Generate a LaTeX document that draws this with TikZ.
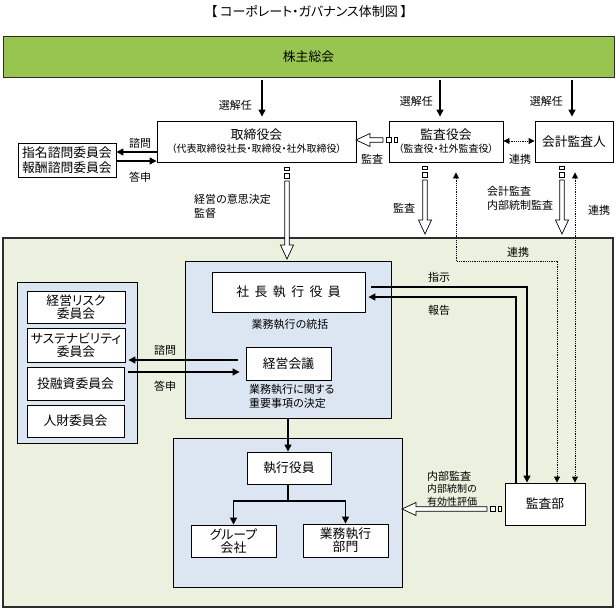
\documentclass[tikz,border=0pt]{standalone}
\usepackage{fontspec}
\usepackage{graphicx}
\setmainfont{Noto Sans CJK JP}[RawFeature=+palt]
\usetikzlibrary{arrows.meta,calc}
\newcommand\fsM{\fontsize{12.8}{16}\selectfont}
\newcommand\fsS{\fontsize{11}{14}\selectfont}
\newcommand\fsX{\fontsize{10}{12.5}\selectfont}
\newcommand\gp{\hspace{5.5pt}}
\definecolor{gbar}{RGB}{152,196,80}
\definecolor{gbg}{RGB}{235,241,222}
\definecolor{bbg}{RGB}{220,230,242}
\definecolor{frame}{RGB}{45,45,45}
\tikzset{
 box/.style={draw=black, line width=0.9pt, fill=white, inner sep=0pt, align=center, font=\fsM},
 panel/.style={draw=black, line width=0.9pt, fill=bbg, inner sep=0pt},
 lbl/.style={inner sep=0pt, font=\fsS, align=center},
 llbl/.style={inner sep=0pt, font=\fsS, align=left},
 arr/.style={line width=1.4pt, -{Triangle[length=7pt,width=7pt]}},
 plain/.style={line width=1.4pt},
 darr/.style={line width=0.9pt, dash pattern=on 1.2pt off 1pt, {Triangle[length=6pt,width=6pt]}-{Triangle[length=6pt,width=6pt]}},
 pics/hollow/.style={code={
   \draw[line width=0.7pt, fill=white, line join=miter] (0,-2.2) -- (#1-14,-2.2) -- (#1-14,-6.5) -- (#1,0) -- (#1-14,6.5) -- (#1-14,2.2) -- (0,2.2) -- cycle;
   \draw[line width=0.7pt, fill=white] (-8,-2.2) rectangle (-3,2.2);
   \draw[line width=0.7pt, fill=white] (-14,-2.2) rectangle (-11,2.2);
 }},
}
\begin{document}
\begin{tikzpicture}[x=1pt,y=-1pt]
\useasboundingbox[fill=white] (0,0) rectangle (616,611);

% title
\node[inner sep=0pt, font=\fontsize{13}{15}\selectfont] (title) at (309,12) {【 コーポレート・ガバナンス体制図 】};

% shareholders
\node[box, draw=frame, fill=gbar, minimum width=611pt, minimum height=41pt] (gm) at (308.5,56.5) {株主総会};

% top row
\node[box, minimum width=199pt, minimum height=41pt] (bod) at (256.5,141.5) {取締役会\\[-3pt]{\fsX （代表取締役社長・取締役・社外取締役）}};
\node[box, minimum width=114pt, minimum height=41pt] (kan) at (446,141.5) {監査役会\\[-3pt]{\fsX （監査役・社外監査役）}};
\node[box, minimum width=78pt, minimum height=41pt] (acc) at (574,141.5) {会計監査人};
\node[box, minimum width=98pt, minimum height=34pt] (nom) at (67,160) {指名諮問委員会\\[-1pt]報酬諮問委員会};

% outer area and panels
\node[draw=frame, line width=1.3pt, fill=gbg, minimum width=610pt, minimum height=369pt, inner sep=0pt] (outer) at (308,422.5) {};
\node[panel, minimum width=206pt, minimum height=157pt] (execbox) at (288,339.5) {};
\node[panel, minimum width=120pt, minimum height=161pt] (commbox) at (77,362.5) {};
\node[panel, minimum width=229pt, minimum height=149pt] (lowbox) at (287.5,512.5) {};

% executive panel contents
\node[box, minimum width=153pt, minimum height=40pt] (pres) at (288.5,292) {社\gp 長\gp 執\gp 行\gp 役\gp 員};
\node[lbl] (presl) at (290,324) {業務執行の統括};
\node[box, minimum width=85pt, minimum height=33pt] (meet) at (288.5,363.5) {経営会議};
\node[inner sep=0pt, align=left, anchor=north west, font=\fontsize{11}{13.5}\selectfont] (meetl) at (249,384.5) {業務執行に関する\\重要事項の決定};

% committees
\node[box, minimum width=98pt, minimum height=32pt] (c1) at (76,307) {経営リスク\\[-3pt]委員会};
\node[box, minimum width=98pt, minimum height=34pt] (c2) at (76,345) {サステナビリティ\\[-3pt]委員会};
\node[box, minimum width=97pt, minimum height=33pt] (c3) at (75.5,383.5) {投融資委員会};
\node[box, minimum width=97pt, minimum height=32pt] (c4) at (75.5,421) {人財委員会};

% lower panel contents
\node[box, minimum width=84pt, minimum height=32pt] (exo) at (289,468) {執行役員};
\node[box, minimum width=85pt, minimum height=32pt] (grp) at (233.5,541) {グループ\\[-3pt]会社};
\node[box, minimum width=85pt, minimum height=33pt] (dept) at (345.5,540.5) {業務執行\\[-3pt]部門};

% audit dept
\node[box, minimum width=80pt, minimum height=42pt] (audit) at (545,504) {監査部};

% helper coordinates
\coordinate (x1) at (262,0);
\coordinate (x2) at (440,0);
\coordinate (x3) at (572,0);
\coordinate (d1) at (456,0);
\coordinate (d2) at (557,0);
\coordinate (d3) at (575,0);
\coordinate (s1) at (527,0);
\coordinate (s2) at (516,0);

% election arrows
\draw[arr] ([yshift=-3pt]gm.south -| x1) -- ([yshift=4pt]bod.north -| x1);
\draw[arr] ([yshift=-3pt]gm.south -| x2) -- ([yshift=4pt]kan.north -| x2);
\draw[arr] ([yshift=-3pt]gm.south -| x3) -- ([yshift=4pt]acc.north -| x3);
\node[lbl, anchor=east] (e1) at (252,105) {選解任};
\node[lbl, anchor=east] (e2) at (433,101) {選解任};
\node[lbl, anchor=east] (e3) at (563,101) {選解任};

% consult / report with nomination committees
\draw[arr] (bod.west |- 0,152) -- (nom.east |- 0,152);
\draw[arr] (nom.east |- 0,161) -- (bod.west |- 0,161);
\node[lbl] (n1) at (140,143) {諮問};
\node[lbl] (n2) at (140,177) {答申};

% audit (kan -> bod)
\pic[rotate=180] at (383,140) {hollow=27};
\node[lbl] (k1) at (372,159) {監査};

% cooperation kan <-> acc
\draw[darr] (kan.east |- 0,141) -- (acc.west |- 0,141);
\node[lbl] (k2) at (520,159) {連携};

% supervisory arrow from board
\pic[rotate=-90] at (287,181) {hollow=78};
\node[inner sep=0pt, align=left, anchor=north west, font=\fontsize{11}{14}\selectfont] (b1) at (194,194) {経営の意思決定\\監督};

% audit downward
\pic[rotate=-90] at (425,180) {hollow=54};
\node[lbl] (k3) at (404,208) {監査};
\pic[rotate=-90] at (562,180) {hollow=54};
\node[inner sep=0pt, align=left, anchor=north west, font=\fontsize{11}{14}\selectfont] (a1) at (487,186) {会計監査\\内部統制監査};
\node[lbl] (a2) at (599,210) {連携};

% dotted cooperation lines with audit dept
\draw[darr] ([yshift=-10pt]kan.south -| d1) |- (d2 |- 0,261) -- (audit.north -| d2);
\node[lbl] (r1) at (518,252) {連携};
\draw[darr] ([yshift=-10pt]acc.south -| d3) -- (audit.north -| d3);

% instruction / report
\draw[arr] ([xshift=6pt]pres.east |- 0,287) -| (audit.north -| s1);
\draw[arr] (audit.north -| s2) |- ([xshift=3pt]pres.east |- 0,297);
\node[lbl] (i1) at (439,277) {指示};
\node[lbl] (i2) at (439,310) {報告};

% committees consult / report
\draw[arr] ([xshift=-8pt]meet.west |- 0,360) -- ([xshift=3pt]c2.east |- 0,360);
\draw[arr] ([xshift=4pt]c3.east |- 0,372) -- ([xshift=-6pt]meet.west |- 0,372);
\node[lbl] (m1) at (165,350) {諮問};
\node[lbl] (m2) at (165,386) {答申};

% executive to executive officers
\draw[arr] (execbox.south -| 288,0) -- (exo.north -| 288,0);
\draw[plain] (exo.south -| 288,0) -- (288,501) coordinate (t);
\draw[arr] ([xshift=0.7pt]t) -| (grp.north);
\draw[arr] ([xshift=-0.7pt]t) -| (dept.north);

% internal audit
\pic[rotate=180] at (487,509) {hollow=85};
\node[inner sep=0pt, align=left, anchor=north west, font=\fontsize{10}{12.5}\selectfont] (ia) at (427,471) {{\fontsize{11}{12.5}\selectfont 内部監査}\\内部統制の\\有効性評価};
\end{tikzpicture}
\end{document}
